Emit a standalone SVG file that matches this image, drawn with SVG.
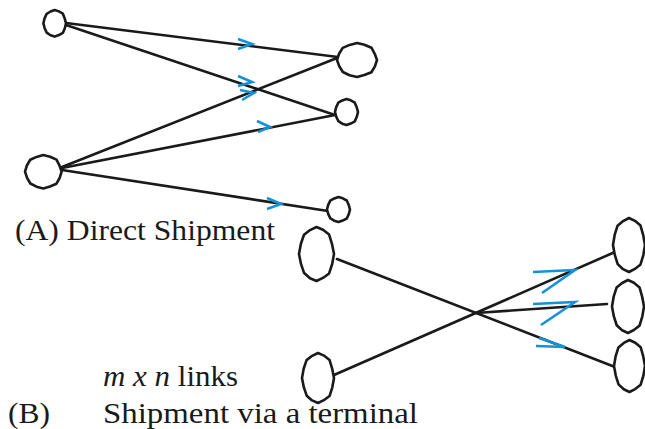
<svg xmlns="http://www.w3.org/2000/svg" xmlns:xlink="http://www.w3.org/1999/xlink" width="645" height="429" viewBox="0 0 645 429">
  <style>
    .node { fill: #fff; stroke: #1a1a1a; stroke-width: 2.6; stroke-linejoin: round; }
    .link { stroke: #1a1a1a; stroke-width: 2.6; fill: none; stroke-linecap: round; }
    .dir { stroke: #1592d6; stroke-width: 2.6; fill: none; stroke-linecap: butt; stroke-linejoin: miter; }
    .label { font-family: "Liberation Serif", "DejaVu Serif", serif; font-size: 29px; fill: #1a1a1a; }
    .it { font-style: italic; }
  </style>
  <defs>
    <!-- slightly bumpy hand-drawn blob on a unit circle -->
    <path id="blob" vector-effect="non-scaling-stroke" d="M1,0 L0.896,0.371 L0.721,0.721 L0.367,0.887 L0,1 L-0.371,0.896 L-0.707,0.707 L-0.887,0.367 L-1,0 L-0.896,-0.371 L-0.714,-0.714 L-0.367,-0.887 L0,-1 L0.371,-0.896 L0.721,-0.721 L0.887,-0.367 Z"/>
  </defs>

  <g id="connectors">
    <!-- (A) direct shipment links -->
    <line class="link" x1="66" y1="23" x2="338" y2="57"/>
    <line class="link" x1="66" y1="25" x2="335" y2="115"/>
    <line class="link" x1="62" y1="167" x2="337" y2="58"/>
    <line class="link" x1="62" y1="168" x2="335" y2="115"/>
    <line class="link" x1="62" y1="170" x2="328" y2="211"/>
    <!-- (B) links through the terminal -->
    <line class="link" x1="337" y1="259" x2="615" y2="367"/>
    <line class="link" x1="334" y1="375" x2="615" y2="252"/>
    <line class="link" x1="476" y1="313" x2="607" y2="304"/>
    <!-- direction marks -->
    <polyline class="dir" points="238,39 252,44 238,49"/>
    <polyline class="dir" points="238,76 252,82 238,86"/>
    <polyline class="dir" points="240,90 254,93 242,100"/>
    <polyline class="dir" points="257,121 270,127 258,132"/>
    <polyline class="dir" points="267,198 281,204 267,209"/>
    <polyline class="dir" points="533,272 575,270 542,293"/>
    <polyline class="dir" points="533,304 575,302 541,325"/>
    <polyline class="dir" points="539,338 565,347 536,346"/>
  </g>

  <g id="a-origin-1"><use xlink:href="#blob" class="node" transform="translate(54.7,23.3) scale(11.3,13.3)"/></g>
  <g id="a-origin-2"><use xlink:href="#blob" class="node" transform="translate(43.3,171.7) scale(18.3,16.7)"/></g>
  <g id="a-dest-1"><use xlink:href="#blob" class="node" transform="translate(357,60) scale(20,17)"/></g>
  <g id="a-dest-2"><use xlink:href="#blob" class="node" transform="translate(346.5,112) scale(11.5,13)"/></g>
  <g id="a-dest-3"><use xlink:href="#blob" class="node" transform="translate(338.5,209.5) scale(11.5,12.5)"/></g>

  <g id="b-origin-1"><use xlink:href="#blob" class="node" transform="translate(316.5,254) scale(17.5,27)"/></g>
  <g id="b-origin-2"><use xlink:href="#blob" class="node" transform="translate(318,378) scale(16,25)"/></g>
  <g id="b-dest-1"><use xlink:href="#blob" class="node" transform="translate(629,245) scale(16,27)"/></g>
  <g id="b-dest-2"><use xlink:href="#blob" class="node" transform="translate(628,306.5) scale(16,26.5)"/></g>
  <g id="b-dest-3"><use xlink:href="#blob" class="node" transform="translate(629.5,366) scale(15.5,26)"/></g>

  <g id="labels">
    <text class="label" x="15" y="240" textLength="260" lengthAdjust="spacingAndGlyphs">(A) Direct Shipment</text>
    <text class="label" x="103" y="386" textLength="135" lengthAdjust="spacingAndGlyphs"><tspan class="it">m x n</tspan> links</text>
    <text class="label" x="8" y="423" textLength="42" lengthAdjust="spacingAndGlyphs">(B)</text>
    <text class="label" x="103" y="423" textLength="315" lengthAdjust="spacingAndGlyphs">Shipment via a terminal</text>
  </g>
</svg>
